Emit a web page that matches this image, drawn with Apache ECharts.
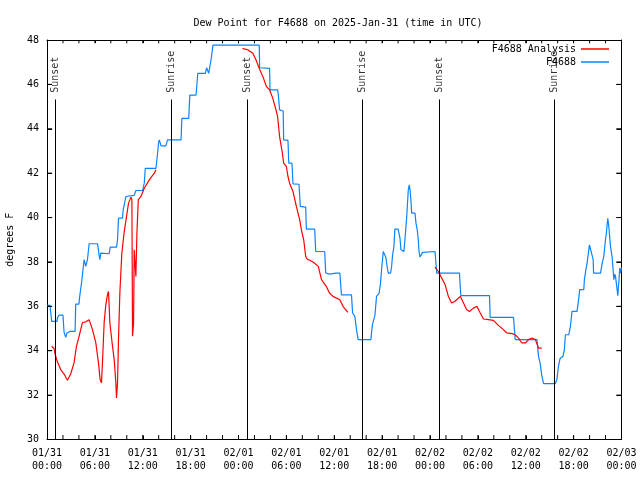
<!DOCTYPE html>
<html>
<head>
<meta charset="utf-8">
<script src="https://cdn.jsdelivr.net/npm/echarts@6/dist/echarts.min.js"></script>
<style>html,body{margin:0;padding:0;background:#fff}#c{width:640px;height:480px}</style>
</head>
<body>
<div id="c"></div>
<script>
// Hours since 2025-01-31 00:00 UTC
const tickLabels = ['01/31\n00:00','01/31\n06:00','01/31\n12:00','01/31\n18:00','02/01\n00:00','02/01\n06:00','02/01\n12:00','02/01\n18:00','02/02\n00:00','02/02\n06:00','02/02\n12:00','02/02\n18:00','02/03\n00:00'];
const xTickHours = [2,4,6,8,10,12,14,16,18,20,22,24,26,28,30,32,34,36,38,40,42,44,46,48,50,52,54,56,58,60,62,64,66,68,70];
const yTickValues = [32,34,36,38,40,42,44,46];

const sunHours = [1.0, 15.6, 25.1, 39.5, 49.16, 63.57];
const sunLabels = ['Sunset','Sunrise','Sunset','Sunrise','Sunset','Sunrise'];

const obsHours = [0,0.38,0.59,1.25,1.3,1.5,2.0,2.14,2.35,2.5,2.85,3.52,3.6,4.0,4.1,4.35,4.65,4.86,5.07,5.28,6.33,6.5,6.62,6.75,6.95,7.79,7.92,8.71,8.84,8.96,9.46,9.55,9.89,10.93,11.14,11.98,12.19,12.32,13.65,13.86,13.99,14.07,14.3,14.9,15.1,16.8,16.9,17.76,17.9,18.68,18.9,19.85,20.0,20.27,20.4,20.6,20.8,26.6,26.65,27.9,27.95,28.9,29.0,29.15,29.6,29.66,30.2,30.3,30.7,30.83,31.58,31.75,32.42,32.5,33.55,33.68,33.9,34.1,34.8,34.93,35.4,36.2,36.7,36.9,38.16,38.3,38.58,38.79,39.0,40.59,40.67,40.8,41.1,41.3,41.63,41.8,41.93,42.14,42.35,42.47,42.64,42.77,43.06,43.19,43.31,43.48,43.6,44.0,44.23,44.36,44.73,44.86,45.07,45.28,45.4,45.5,45.62,45.7,46.12,46.24,46.4,46.53,46.62,46.75,46.96,47.08,47.25,48.63,48.84,51.69,51.86,55.46,55.54,58.47,58.68,61.4,61.6,61.8,62.0,62.24,63.7,63.9,64.1,64.3,64.67,64.84,64.97,65.39,65.6,65.8,66.43,66.64,66.76,67.27,67.35,67.57,67.69,67.98,68.23,68.45,68.5,69.37,69.58,69.78,69.99,70.1,70.28,70.41,70.62,70.83,71.04,71.15,71.25,71.37,71.45,71.53,71.66,71.78,71.88,72.0];
const obsValues = [36.04,36.04,35.32,35.32,35.47,35.6,35.6,34.83,34.6,34.8,34.87,34.87,36.1,36.1,36.45,37.12,38.1,37.8,38.1,38.82,38.82,38.4,38.1,38.4,38.37,38.37,38.67,38.67,39.0,39.97,39.97,40.35,40.95,41.0,41.22,41.22,41.55,42.22,42.22,42.9,43.4,43.5,43.23,43.23,43.5,43.5,44.47,44.47,45.52,45.52,46.5,46.5,46.75,46.5,46.5,47.2,47.77,47.77,46.75,46.72,45.75,45.75,45.5,44.85,44.8,43.5,43.48,42.45,42.45,41.52,41.5,40.5,40.47,39.48,39.48,38.47,38.42,38.47,38.47,37.5,37.45,37.5,37.5,36.52,36.52,35.7,35.55,34.95,34.5,34.5,34.8,35.2,35.6,36.45,36.6,37.05,37.65,38.47,38.47,38.2,37.75,37.5,37.5,37.8,38.3,38.7,39.48,39.48,39.1,38.55,38.47,39.0,39.97,41.25,41.47,41.25,40.7,40.2,40.2,39.75,39.45,39.0,38.47,38.22,38.22,38.43,38.5,38.47,37.5,37.5,36.48,36.48,35.5,35.5,34.5,34.5,33.75,33.45,32.9,32.52,32.52,32.7,33.3,33.65,33.75,34.05,34.72,34.72,35.1,35.77,35.77,36.35,36.75,36.75,37.2,37.72,37.95,38.77,38.77,38.1,37.5,37.5,37.95,38.25,39.0,39.3,39.97,39.6,38.7,38.2,37.2,37.45,37.35,37.28,36.75,36.48,37.05,37.72,37.5,37.75];

const anaHours = [0.59,0.88,1.0,1.3,1.72,2.14,2.56,2.97,3.39,3.69,4.02,4.44,4.86,5.28,5.49,5.7,6.12,6.45,6.66,6.83,6.95,7.16,7.37,7.58,7.71,7.88,8.21,8.42,8.63,8.71,8.84,8.96,9.13,9.38,9.68,9.97,10.22,10.52,10.64,10.72,10.85,10.93,11.14,11.27,11.44,11.77,12.19,12.82,13.45,13.65,
  19.0,
  24.5,25.2,25.8,26.2,26.6,27.06,27.5,27.9,28.3,28.7,28.9,29.15,29.5,29.66,30.0,30.2,30.4,30.83,31.25,31.67,31.88,32.17,32.42,32.6,33.34,34.0,34.4,35.0,35.4,35.85,36.7,37.1,37.7,
  43.0,
  48.63,49.05,49.47,49.9,50.3,50.7,51.1,51.8,52.2,52.6,52.94,53.44,53.87,54.3,54.7,55.33,55.96,56.6,57.2,57.64,58.27,58.68,59.1,59.5,59.94,60.36,60.78,61.2,61.4,61.6,62.0];
const anaValues = [34.2,34.1,33.87,33.5,33.15,32.95,32.67,32.95,33.45,34.2,34.65,35.27,35.3,35.4,35.43,34.95,34.35,33.45,32.7,32.55,33.45,35.25,36.07,36.52,36.67,35.25,34.2,33.6,32.55,31.87,32.55,34.5,36.6,38.4,39.37,40.05,40.65,40.92,40.8,34.65,35.25,38.55,37.35,39.3,40.8,40.95,41.32,41.7,42.0,42.15,
  null,
  47.62,47.55,47.4,47.1,46.72,46.35,45.9,45.75,45.37,44.85,44.55,43.65,42.9,42.45,42.3,41.85,41.55,41.17,40.5,39.9,39.45,39.0,38.25,38.13,38.0,37.8,37.2,36.9,36.6,36.45,36.3,36.0,35.73,
  null,
  37.77,37.57,37.27,36.97,36.45,36.15,36.22,36.45,36.15,35.85,35.77,35.92,36.0,35.7,35.43,35.4,35.37,35.13,34.95,34.8,34.77,34.72,34.57,34.35,34.35,34.5,34.57,34.5,34.32,34.12,34.12];

const FONT = 'DejaVu Sans Mono';
const RED = '#ff0000';
const BLUE = '#0a84ff';
const SUN_LINE_TOP = 45.32;
const SUN_LABEL_Y = 45.62;
const X_MIN = 0, X_MAX = 72, Y_MIN = 30, Y_MAX = 48;
// tick lengths in data units (about 4px / 3px vertical, 5px horizontal)
const XT_BOTTOM = 0.2, XT_TOP = 0.15, YT_LEN = 0.65;

const chart = echarts.init(document.getElementById('c'), null, {renderer: 'canvas'});

function xAxisDef(pos, showLabel, len) {
  return {
    type: 'value', min: X_MIN, max: X_MAX, interval: 6, position: pos,
    axisLine: {show: true, onZero: false, lineStyle: {color: '#000', width: 1}},
    axisTick: {show: true, inside: true, length: len, lineStyle: {color: '#000', width: 1}},
    splitLine: {show: false},
    axisLabel: showLabel ? {show: true, margin: 8, fontFamily: FONT, fontSize: 10, color: '#000', lineHeight: 12.5,
      formatter: function (v) { return tickLabels[Math.round(v / 6)]; }} : {show: false}
  };
}
function yAxisDef(pos, showLabel) {
  const a = {
    type: 'value', min: Y_MIN, max: Y_MAX, interval: 2, position: pos,
    axisLine: {show: true, onZero: false, lineStyle: {color: '#000', width: 1}},
    axisTick: {show: true, inside: true, length: 5, lineStyle: {color: '#000', width: 1}},
    splitLine: {show: false},
    axisLabel: showLabel ? {show: true, margin: 8, fontFamily: FONT, fontSize: 10, color: '#000'} : {show: false}
  };
  if (showLabel) {
    a.name = 'degrees F'; a.nameLocation = 'middle'; a.nameRotate = 90; a.nameGap = 32;
    a.nameTextStyle = {fontFamily: FONT, fontSize: 10, color: '#000'};
  }
  return a;
}

// tick segments as a polyline series with gaps
const tickSeg = [];
xTickHours.forEach(h => {
  tickSeg.push([h, Y_MIN], [h, Y_MIN + XT_BOTTOM], [h, null]);
  tickSeg.push([h, Y_MAX], [h, Y_MAX - XT_TOP], [h, null]);
});
yTickValues.forEach(v => {
  tickSeg.push([X_MIN, v], [X_MIN + YT_LEN, v], [X_MIN + YT_LEN, null]);
  tickSeg.push([X_MAX, v], [X_MAX - YT_LEN, v], [X_MAX - YT_LEN, null]);
});

const option = {
  animation: false,
  backgroundColor: '#fff',
  title: {
    text: 'Dew Point for F4688 on 2025-Jan-31 (time in UTC)',
    left: 333, top: 13, textAlign: 'center',
    textStyle: {fontFamily: FONT, fontSize: 10, fontWeight: 'normal', color: '#000'}
  },
  legend: [
    {data: ['F4688 Analysis'], right: 31, top: 44, align: 'right', orient: 'vertical',
     icon: 'rect', itemWidth: 28, itemHeight: 1.5, itemGap: 7,
     textStyle: {fontFamily: FONT, fontSize: 10, color: '#000'}, padding: 0},
    {data: ['F4688'], right: 31, top: 57, align: 'right', orient: 'vertical',
     icon: 'rect', itemWidth: 28, itemHeight: 1.5, itemGap: 7,
     textStyle: {fontFamily: FONT, fontSize: 10, color: '#000'}, padding: 0}
  ],
  grid: {left: 47, right: 18.5, top: 40, bottom: 40.5, containLabel: false, outerBoundsMode: 'none'},
  xAxis: [xAxisDef('bottom', true, 4), xAxisDef('top', false, 3)],
  yAxis: [yAxisDef('left', true), yAxisDef('right', false)],
  series: [
    {
      name: 'ticks', type: 'line', xAxisIndex: 0, yAxisIndex: 0, silent: true,
      data: tickSeg, showSymbol: false, symbol: 'none', connectNulls: false, clip: false,
      lineStyle: {color: '#000', width: 1}, itemStyle: {color: '#000'}, z: 6
    },
    {
      name: 'F4688 Analysis', type: 'line', xAxisIndex: 0, yAxisIndex: 0,
      data: anaHours.map((h, i) => [h, anaValues[i]]),
      showSymbol: false, symbol: 'none', connectNulls: false,
      lineStyle: {color: RED, width: 1.2}, itemStyle: {color: RED}, z: 3
    },
    {
      name: 'F4688', type: 'line', xAxisIndex: 0, yAxisIndex: 0,
      data: obsHours.map((h, i) => [h, obsValues[i]]),
      showSymbol: false, symbol: 'none',
      lineStyle: {color: BLUE, width: 1.2}, itemStyle: {color: BLUE}, z: 2,
      markLine: {
        silent: true, symbol: ['none', 'none'], animation: false,
        label: {show: false},
        lineStyle: {color: '#000', width: 1, type: 'solid', opacity: 1},
        data: sunHours.map(h => [{coord: [h, Y_MIN]}, {coord: [h, SUN_LINE_TOP]}])
      }
    },
    {
      name: 'sun', type: 'scatter', xAxisIndex: 0, yAxisIndex: 0,
      symbolSize: 0, silent: true,
      data: sunHours.map(h => [h, SUN_LABEL_Y]),
      label: {
        show: true, position: 'inside', rotate: 90, align: 'left', verticalAlign: 'middle',
        fontFamily: FONT, fontSize: 10, color: '#000',
        formatter: p => sunLabels[p.dataIndex]
      }
    }
  ]
};
chart.setOption(option);
</script>
</body>
</html>
